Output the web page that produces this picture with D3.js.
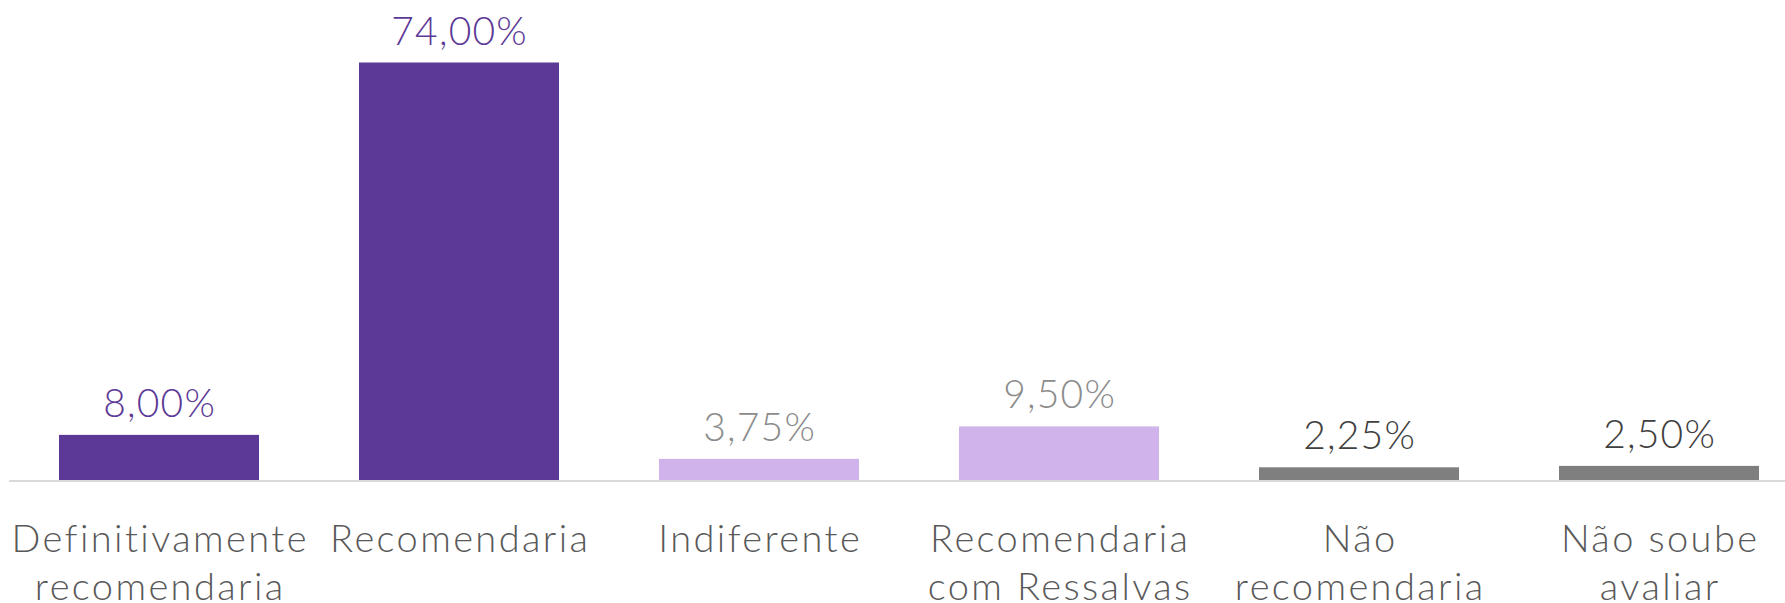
<!DOCTYPE html>
<html>
<head>
<meta charset="utf-8">
<script src="https://cdn.jsdelivr.net/npm/d3@7"></script>
<style>
  html, body { margin: 0; padding: 0; background: #fff; }
  svg { display: block; }
  text { font-family: Lato, "Open Sans", sans-serif; font-weight: 300; }
</style>
</head>
<body>
<svg id="chart" width="1785" height="603"></svg>
<script>
const categories = [
  ["Definitivamente", "recomendaria"],
  ["Recomendaria"],
  ["Indiferente"],
  ["Recomendaria", "com Ressalvas"],
  ["Não", "recomendaria"],
  ["Não soube", "avaliar"]
];
const values = [8.00, 74.00, 3.75, 9.50, 2.25, 2.50];
const valueLabels = ["8,00%", "74,00%", "3,75%", "9,50%", "2,25%", "2,50%"];
const barColors = ["#5C3996", "#5C3996", "#D0B3EA", "#D0B3EA", "#7F7F7F", "#7F7F7F"];
const labelColors = ["#5C3996", "#5C3996", "#8C8C8C", "#8C8C8C", "#404040", "#404040"];

const W = 1785, H = 603;
const baseY = 480;
const svg = d3.select("#chart");

const idx = d3.range(values.length);
const x = d3.scaleBand().domain(idx).range([9, 1809]).paddingInner(1/3).paddingOuter(1/6);
const y = d3.scaleLinear().domain([0, 74]).range([baseY, 62.5]);

svg.append("g").selectAll("rect").data(idx).join("rect")
  .attr("x", i => x(i))
  .attr("y", i => y(values[i]))
  .attr("width", x.bandwidth())
  .attr("height", i => baseY - y(values[i]))
  .attr("fill", i => barColors[i]);

// axis baseline
const xAxis = d3.axisBottom(x).tickSize(0).tickFormat("");
const ax = svg.append("g").attr("transform", `translate(0,${baseY})`).call(xAxis);
ax.select(".domain").attr("stroke", "#D9D9D9").attr("stroke-width", 2)
  .attr("d", `M9,1H${W}`);

// value labels
svg.append("g").selectAll("text").data(idx).join("text")
  .attr("x", i => x(i) + x.bandwidth() / 2 + 0.6)
  .attr("y", i => y(values[i]) - 18)
  .attr("text-anchor", "middle")
  .attr("font-size", 39)
  .attr("letter-spacing", 1.2)
  .attr("fill", i => labelColors[i])
  .text(i => valueLabels[i]);

// category labels
const cat = svg.append("g").selectAll("text").data(idx).join("text")
  .attr("text-anchor", "middle")
  .attr("font-size", 38)
  .attr("letter-spacing", 2.4)
  .attr("fill", "#595959");
cat.each(function(i) {
  const t = d3.select(this);
  categories[i].forEach((line, k) => {
    t.append("tspan")
      .attr("x", x(i) + x.bandwidth() / 2 + 1.2)
      .attr("y", 552 + k * 48)
      .text(line);
  });
});
</script>
</body>
</html>
